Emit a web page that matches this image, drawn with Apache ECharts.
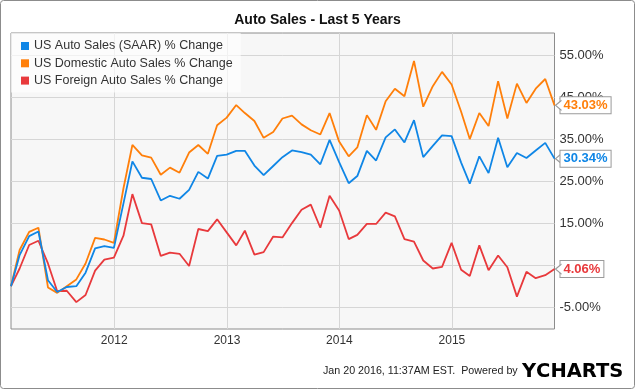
<!DOCTYPE html>
<html>
<head>
<meta charset="utf-8">
<script src="https://cdn.jsdelivr.net/npm/echarts@6/dist/echarts.min.js"></script>
<style>
html,body{margin:0;padding:0;background:#fff;}
#chart{width:635px;height:389px;}
</style>
</head>
<body>
<div id="chart"></div>
<script>
var dates = [
 '2011-01-31','2011-02-28','2011-03-31','2011-04-30','2011-05-31','2011-06-30','2011-07-31','2011-08-31','2011-09-30','2011-10-31','2011-11-30','2011-12-31',
 '2012-01-31','2012-02-29','2012-03-31','2012-04-30','2012-05-31','2012-06-30','2012-07-31','2012-08-31','2012-09-30','2012-10-31','2012-11-30','2012-12-31',
 '2013-01-31','2013-02-28','2013-03-31','2013-04-30','2013-05-31','2013-06-30','2013-07-31','2013-08-31','2013-09-30','2013-10-31','2013-11-30','2013-12-31',
 '2014-01-31','2014-02-28','2014-03-31','2014-04-30','2014-05-31','2014-06-30','2014-07-31','2014-08-31','2014-09-30','2014-10-31','2014-11-30','2014-12-31',
 '2015-01-31','2015-02-28','2015-03-31','2015-04-30','2015-05-31','2015-06-30','2015-07-31','2015-08-31','2015-09-30','2015-10-31','2015-11-30'
];
var autoSales = [
 0, 7.4, 11.9, 13.0, 1.4, -1.4, -0.2, 0, 3.2, 9.0, 9.5, 9.1,
 19.7, 29.7, 25.8, 25.5, 20.4, 21.5, 20.8, 22.9, 27.2, 25.6, 31.0, 31.3,
 32.2, 32.2, 28.7, 26.4, 28.6, 30.7, 32.3, 31.9, 31.3, 29.0, 34.8, 29.5,
 24.5, 26.2, 32.2, 29.9, 35.4, 37.3, 34.2, 39.5, 30.7, 33.4, 35.9, 35.7,
 29.4, 24.4, 30.9, 26.9, 35.3, 28.3, 31.7, 30.5, 32.3, 34.1, 30.34
];
var domesticSales = [
 0, 8.6, 12.9, 13.9, -0.3, -1.6, 0, 1.6, 5.4, 11.5, 11.1, 10.3,
 23.3, 33.6, 31.1, 30.6, 26.5, 28.2, 27.0, 31.8, 33.6, 31.5, 38.3, 40.1,
 43.1, 41.2, 39.3, 35.3, 36.7, 39.9, 40.6, 38.5, 37.1, 36.1, 41.2, 34.4,
 30.9, 33.0, 40.7, 37.2, 44.0, 47.0, 45.2, 53.6, 42.7, 47.6, 51.0, 48.0,
 41.5, 35.0, 41.2, 38.1, 48.8, 39.9, 48.2, 43.6, 47.0, 49.3, 43.03
];
var foreignSales = [
 0, 4.2, 9.8, 10.8, 5.4, -1.2, -1.1, -3.8, -2.1, 3.7, 6.3, 6.8,
 12.0, 21.9, 15.0, 14.7, 7.2, 8.0, 7.7, 4.8, 13.6, 13.1, 15.9, 12.8,
 9.7, 13.2, 7.5, 8.1, 11.8, 11.6, 15.0, 18.2, 19.4, 13.9, 21.5, 18.0,
 11.2, 12.2, 14.8, 14.8, 17.5, 16.6, 11.2, 10.6, 6.1, 4.2, 4.6, 10.3,
 3.9, 2.4, 9.7, 3.8, 7.3, 4.5, -2.5, 3.4, 1.9, 2.6, 4.06
];
var seriesNames = ['US Auto Sales (SAAR) % Change','US Domestic Auto Sales % Change','US Foreign Auto Sales % Change'];
var seriesColors = ['#0f86e6','#ff7f0a','#e8393c'];
var yTicks = [-5, 5, 15, 25, 35, 45, 55];
var yearTicks = ['2012-01-01','2013-01-01','2014-01-01','2015-01-01'];

function ts(s){ return Date.parse(s + 'T00:00:00Z'); }
var chart = echarts.init(document.getElementById('chart'));
function pairs(vals){ return vals.map(function(v,i){ return [ts(dates[i]), v]; }); }
var yearTs = yearTicks.map(ts);
var allData = [autoSales, domesticSales, foreignSales];
var FONT = 'Liberation Sans, Arial, sans-serif';
var series = allData.map(function(vals, k){
  var last = vals.length - 1;
  return {
    name: seriesNames[k], type: 'line', data: pairs(vals), showSymbol: false, symbol: 'none',
    lineStyle: { width: 1.8, color: seriesColors[k] }, itemStyle: { color: seriesColors[k] },
    animation: false, z: 3 + (2 - k),
    endLabel: {
      show: true, distance: 6,
      formatter: function(p){ return p.value[1].toFixed(2) + '%'; },
      color: seriesColors[k], fontWeight: 'bold', fontSize: 13, fontFamily: FONT,
      backgroundColor: '#fff', borderColor: '#9a9a9a', borderWidth: 1, padding: [2, 3, 1, 3]
    },
    markPoint: {
      silent: true, animation: false,
      symbol: 'path://M6,0 L0,5 L6,10', symbolSize: [6, 10], symbolOffset: [4, 0],
      symbolKeepAspect: false,
      itemStyle: { color: '#fff', borderColor: '#9a9a9a', borderWidth: 1 },
      label: { show: false },
      data: [{ coord: [ts(dates[last]), vals[last]] }]
    }
  };
});

chart.setOption({
  animation: false,
  backgroundColor: '#fff',
  textStyle: { fontFamily: FONT },
  title: {
    text: 'Auto Sales - Last 5 Years', left: 'center', top: 8,
    textStyle: { fontSize: 14, fontWeight: 'bold', color: '#111', fontFamily: FONT }
  },
  legend: {
    orient: 'vertical', left: 11, top: 33, data: seriesNames,
    icon: 'rect', itemWidth: 8, itemHeight: 8, itemGap: 3.3,
    backgroundColor: 'rgba(255,255,255,0.65)', padding: [6, 8, 5, 10],
    textStyle: { fontSize: 12.5, color: '#333', lineHeight: 14 }
  },
  grid: {
    left: 11, top: 33, width: 543.5, height: 296, show: true,
    backgroundColor: '#f7f7f7', borderColor: '#8c8c8c', borderWidth: 1, containLabel: false
  },
  xAxis: {
    type: 'value', min: ts(dates[0]), max: ts(dates[dates.length - 1]),
    axisLine: { show: false }, axisTick: { show: false, customValues: yearTs },
    axisLabel: { customValues: yearTs, margin: 6, fontSize: 12, color: '#333',
      formatter: function(v){ return String(new Date(v).getUTCFullYear()); } },
    splitLine: { show: true, lineStyle: { color: '#d6d6d6', width: 1 } }
  },
  yAxis: {
    type: 'value', position: 'right', min: -10.2, max: 60.25,
    axisLine: { show: false }, axisTick: { show: false, customValues: yTicks },
    axisLabel: { customValues: yTicks, margin: 5, fontSize: 13, color: '#333',
      formatter: function(v){ return v.toFixed(2) + '%'; } },
    splitLine: { show: true, lineStyle: { color: '#d6d6d6', width: 1 } }
  },
  series: series,
  graphic: [
    { type: 'rect', shape: { x: 0.5, y: 0.5, width: 634, height: 388, r: 3 }, style: { fill: null, stroke: '#8c8c8c', lineWidth: 1 }, silent: true, z: 100 },
    { type: 'text', left: 323, top: 366, style: { text: 'Jan 20 2016, 11:37AM EST.  Powered by', fontSize: 10.7, fill: '#222', fontFamily: FONT } },
    { type: 'text', left: 522, top: 362, style: {
        text: '{y|Y}{c|CHARTS}', fontFamily: 'DejaVu Sans, sans-serif',
        rich: { y: { fontSize: 19.5, fontWeight: 'bold', color: '#1a8ae6', fontFamily: 'DejaVu Sans, sans-serif' },
                c: { fontSize: 19.5, fontWeight: 'bold', color: '#111', fontFamily: 'DejaVu Sans, sans-serif' } } } }
  ]
});
</script>
</body>
</html>
